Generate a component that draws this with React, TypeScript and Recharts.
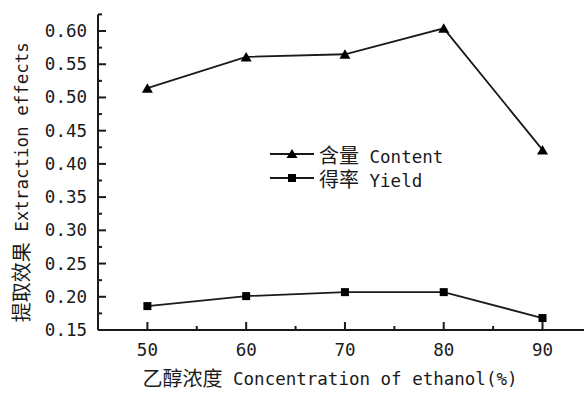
import React from "react";
import { LineChart, Line, XAxis, YAxis, Legend } from "recharts";

const concentrations = [50, 60, 70, 80, 90];
const contentValues = [0.514, 0.561, 0.565, 0.604, 0.421];
const yieldValues = [0.186, 0.201, 0.207, 0.207, 0.168];
const xMajorTicks = [50, 60, 70, 80, 90];
const xMinorTicks = [55, 65, 75, 85];
const yMajorTicks = [0.15, 0.2, 0.25, 0.3, 0.35, 0.4, 0.45, 0.5, 0.55, 0.6];
const yMinorTicks = [0.175, 0.225, 0.275, 0.325, 0.375, 0.425, 0.475, 0.525, 0.575, 0.625];
const seriesNames = { content: "含量", contentEn: "Content", yield: "得率", yieldEn: "Yield" };
const xTitleCn = "乙醇浓度";
const xTitleEn = " Concentration of ethanol(%)";
const yTitleCn = "提取效果";
const yTitleEn = " Extraction effects";

const data = concentrations.map((c, i) => ({ x: c, content: contentValues[i], yield: yieldValues[i] }));

const FONT = "'DejaVu Sans Mono', 'Noto Sans CJK SC', monospace";
const INK = "#1a1a1a";
const X_MARGIN = 12;
const Y_MARGIN = 11;

const isMajor = (v: number, arr: number[]) => arr.some((a) => Math.abs(a - v) < 1e-6);

const XTick = (props: any) => {
  const { x, y, payload } = props;
  const v = payload.value;
  const major = isMajor(v, xMajorTicks);
  const axisY = y - X_MARGIN;
  return (
    <g>
      <line x1={x} x2={x} y1={axisY} y2={axisY - (major ? 8 : 4)} stroke={INK} strokeWidth={2} />
      {major && (
        <text x={x} y={axisY + 20} textAnchor="middle" dominantBaseline="central" fontFamily={FONT} fontSize={17.5} fill={INK}>
          {v}
        </text>
      )}
    </g>
  );
};

const YTick = (props: any) => {
  const { x, y, payload } = props;
  const v = payload.value;
  const major = isMajor(v, yMajorTicks);
  const axisX = x + Y_MARGIN;
  return (
    <g>
      <line x1={axisX} x2={axisX + (major ? 8 : 4)} y1={y} y2={y} stroke={INK} strokeWidth={2} />
      {major && (
        <text x={x} y={y} textAnchor="end" dominantBaseline="central" fontFamily={FONT} fontSize={17.5} fill={INK}>
          {v.toFixed(2)}
        </text>
      )}
    </g>
  );
};

const Triangle = (props: any) => {
  const { cx, cy, index } = props;
  if (cx == null || cy == null) return <g key={`t${index}`} />;
  return <polygon key={`t${index}`} points={`${cx - 5.5},${cy + 4.5} ${cx},${cy - 5} ${cx + 5.5},${cy + 4.5}`} fill="#000" />;
};

const Square = (props: any) => {
  const { cx, cy, index } = props;
  if (cx == null || cy == null) return <g key={`s${index}`} />;
  return <rect key={`s${index}`} x={cx - 4} y={cy - 4} width={8} height={8} fill="#000" />;
};

const XTitle = (props: any) => {
  const { viewBox } = props;
  return (
    <text x={viewBox.x + viewBox.width / 2 - 11} y={viewBox.y + 49} textAnchor="middle" dominantBaseline="central" fontFamily={FONT} fontSize={17.5} fill={INK}>
      <tspan fontSize={20}>{xTitleCn}</tspan>
      <tspan>{xTitleEn}</tspan>
    </text>
  );
};

const YTitle = (props: any) => {
  const { viewBox } = props;
  const cx = viewBox.x + 22;
  const cy = viewBox.y + viewBox.height / 2 + 10;
  return (
    <text x={cx} y={cy} transform={`rotate(-90 ${cx} ${cy})`} textAnchor="middle" dominantBaseline="central" fontFamily={FONT} fontSize={17.5} fill={INK}>
      <tspan fontSize={20}>{yTitleCn}</tspan>
      <tspan>{yTitleEn}</tspan>
    </text>
  );
};

const LegendIcon = ({ marker }: { marker: "tri" | "sq" }) => (
  <svg width={44} height={14} style={{ display: "block" }}>
    <line x1={0} x2={44} y1={7} y2={7} stroke={INK} strokeWidth={1.8} />
    {marker === "tri" ? (
      <polygon points="16.5,11 22,2 27.5,11" fill="#000" />
    ) : (
      <rect x={18} y={3} width={8} height={8} fill="#000" />
    )}
  </svg>
);

const LegendContent = () => {
  const rows = [
    { marker: "tri" as const, cn: seriesNames.content, en: seriesNames.contentEn },
    { marker: "sq" as const, cn: seriesNames.yield, en: seriesNames.yieldEn },
  ];
  return (
    <div style={{ fontFamily: FONT, fontSize: 17.5, color: INK }}>
      {rows.map((r) => (
        <div key={r.en} style={{ display: "flex", alignItems: "center", height: 24 }}>
          <LegendIcon marker={r.marker} />
          <span style={{ marginLeft: 5, whiteSpace: "pre" }}>
            <span style={{ fontSize: 20 }}>{r.cn}</span>
            {" " + r.en}
          </span>
        </div>
      ))}
    </div>
  );
};

export default function App() {
  return (
    <div style={{ position: "absolute", left: 0, top: 0, width: 584, height: 409, background: "#fff" }}>
      <LineChart width={584} height={409} data={data} margin={{ top: 14.4, right: 0, bottom: 0, left: 0 }}>
        <XAxis
          dataKey="x"
          type="number"
          domain={[45, 94.2]}
          ticks={[...xMajorTicks, ...xMinorTicks].sort((a, b) => a - b)}
          interval={0}
          tickSize={0}
          tickMargin={X_MARGIN}
          tick={<XTick />}
          height={79}
          axisLine={{ stroke: INK, strokeWidth: 2 }}
          allowDataOverflow
          label={<XTitle />}
        />
        <YAxis
          type="number"
          domain={[0.15, 0.625]}
          ticks={[...yMajorTicks, ...yMinorTicks].sort((a, b) => a - b)}
          interval={0}
          tickSize={0}
          tickMargin={Y_MARGIN}
          tick={<YTick />}
          width={98}
          axisLine={{ stroke: INK, strokeWidth: 2 }}
          allowDataOverflow
          label={<YTitle />}
        />
        <Legend
          layout="vertical"
          align="center"
          verticalAlign="middle"
          content={<LegendContent />}
          wrapperStyle={{ position: "absolute", left: 270, top: 142, width: "auto" }}
        />
        <Line dataKey="content" stroke={INK} strokeWidth={1.8} dot={<Triangle />} isAnimationActive={false} />
        <Line dataKey="yield" stroke={INK} strokeWidth={1.8} dot={<Square />} isAnimationActive={false} />
      </LineChart>
    </div>
  );
}
